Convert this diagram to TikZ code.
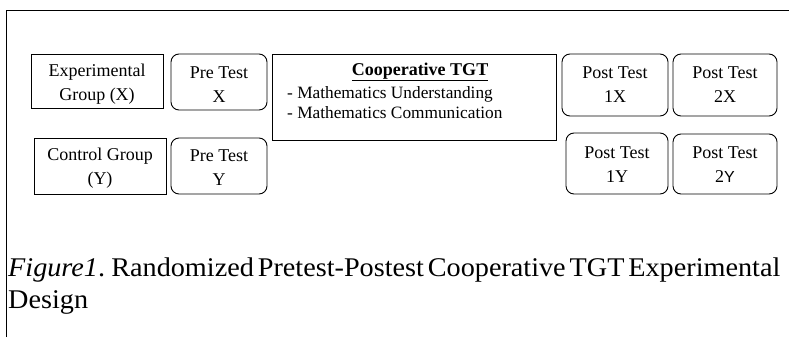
\documentclass[tikz,border=0pt]{standalone}
\usepackage{fontspec}
\setmainfont{Liberation Serif}
\newfontfamily\capfont[WordSpace=0.55,FakeStretch=1.045]{Liberation Serif}
\newfontfamily\altfont{Liberation Sans}
\usepackage{tikz}
\usetikzlibrary{positioning}

\tikzset{
  boxtext/.style={font=\fontsize{18}{24}\selectfont, align=center, inner sep=0pt},
  sqbox/.style={draw, line width=0.9pt, inner sep=0pt},
  rndbox/.style={sqbox, rounded corners=8pt}
}

\begin{document}
\begin{tikzpicture}[x=1pt,y=-1pt]

\useasboundingbox (0,0) rectangle (789,337);

% Frame lines
\draw[line width=0.9pt] (6,337)--(6,10)--(789,10);

% Groups
\node[sqbox, minimum width=132pt, minimum height=54pt,
  label={[boxtext, name=expgrptxt, yshift=-3pt]center:Experimental\\Group (X)}] (expgrp) at (97,81) {};
\node[sqbox, minimum width=132pt, minimum height=56pt,
  label={[boxtext, name=ctlgrptxt, yshift=-2.5pt]center:Control Group\\(Y)}] (ctlgrp) at (100,166) {};

% Pre tests
\node[rndbox, minimum width=96pt, minimum height=56pt,
  label={[boxtext, name=prextxt, yshift=-3pt]center:Pre Test\\X}] (prex) at (219,82) {};
\node[rndbox, minimum width=96pt, minimum height=56pt,
  label={[boxtext, name=preytxt, yshift=-2pt]center:Pre Test\\Y}] (prey) at (219,166) {};

% Treatment
\node[sqbox, minimum width=284pt, minimum height=86pt] (tgt) at (414,97) {};
\node[font=\fontsize{18}{23}\selectfont\bfseries, inner sep=0pt] (tgttitle) at (420,72) {\underline{Cooperative TGT}};
\node[font=\fontsize{17.3}{20}\selectfont, align=left, anchor=north west, inner sep=0pt] (tgtlist) at (287,86) {- Mathematics Understanding\\- Mathematics Communication};

% Post tests
\node[rndbox, minimum width=106pt, minimum height=62pt,
  label={[boxtext, name=post1xtxt]center:Post Test\\1X}] (post1x) at (615,85) {};
\node[rndbox, minimum width=104pt, minimum height=62pt,
  label={[boxtext, name=post2xtxt]center:Post Test\\2X}] (post2x) at (725,85) {};
\node[rndbox, minimum width=102pt, minimum height=61pt,
  label={[boxtext, name=post1ytxt, yshift=-1pt]center:Post Test\\1Y}] (post1y) at (617,163.5) {};
\node[rndbox, minimum width=104pt, minimum height=60pt,
  label={[boxtext, name=post2ytxt, yshift=-1pt]center:Post Test\\2{\altfont\fontsize{16}{24}\selectfont Y}}] (post2y) at (725,164) {};

% Caption
\node[anchor=base west, inner sep=0pt, align=left, font=\capfont\fontsize{27}{32}\selectfont] (caption) at (8,308)
  {\textit{Figure1}. Randomized Pretest-Postest Cooperative TGT Experimental\\Design};

\end{tikzpicture}
\end{document}
